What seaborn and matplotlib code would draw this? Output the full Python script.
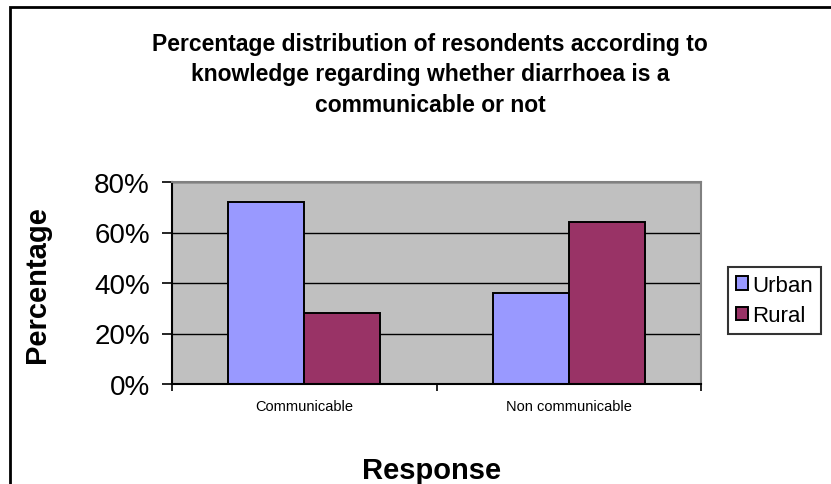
import matplotlib
matplotlib.use("Agg")
import matplotlib.pyplot as plt
from matplotlib.patches import Rectangle
from matplotlib.ticker import FixedLocator, PercentFormatter
import seaborn as sns
import pandas as pd

# Survey responses (percent of respondents)
responses = ["Communicable", "Non communicable"]
urban = [72, 36]
rural = [28, 64]
series_names = ["Urban", "Rural"]
series_colors = ["#9999FF", "#993366"]
y_ticks = [0, 20, 40, 60, 80]

df = pd.DataFrame({
    "Response": responses * 2,
    "Area": [series_names[0]] * len(responses) + [series_names[1]] * len(responses),
    "Percentage": urban + rural,
})

sns.set_theme(style="white")
plt.rcParams["font.family"] = ["Liberation Sans", "DejaVu Sans"]
plt.rcParams["text.color"] = "black"
plt.rcParams["xtick.color"] = "black"
plt.rcParams["ytick.color"] = "black"
plt.rcParams["axes.labelcolor"] = "black"

fig = plt.figure(figsize=(8.31, 4.85), dpi=100)
W, H = 831, 485
ax = fig.add_axes([172 / W, 1 - 385 / H, (701 - 172) / W, (385 - 183) / H])
ax.set_facecolor("#C0C0C0")

sns.barplot(data=df, x="Response", y="Percentage", hue="Area",
            palette=series_colors, width=0.575, edgecolor="black",
            linewidth=1.4, saturation=1, ax=ax, legend=True)

ax.set_ylim(0, 80)
ax.set_xlim(-0.5, 1.5)
ax.yaxis.set_major_locator(FixedLocator(y_ticks))
ax.yaxis.set_major_formatter(PercentFormatter(decimals=0))
ax.grid(axis="y", color="black", linewidth=1.0)
ax.set_axisbelow(True)

# spines: black on the left/bottom, grey on the top/right
for side in ("left", "bottom"):
    ax.spines[side].set_color("black")
    ax.spines[side].set_linewidth(1.5)
for side in ("top", "right"):
    ax.spines[side].set_color("#808080")
    ax.spines[side].set_linewidth(1.5)

ax.tick_params(axis="y", which="major", direction="out", length=7, width=1.2,
               color="black", labelsize=20, pad=9, left=True)
ax.tick_params(axis="x", which="major", length=0, labelsize=10.5, pad=11)
ax.xaxis.set_minor_locator(FixedLocator([-0.5, 0.5, 1.5]))
ax.tick_params(axis="x", which="minor", direction="out", length=5, width=1.2,
               color="black", bottom=True)

ax.set_xlabel("")
ax.set_ylabel("")
fig.text(432 / W, 1 - 471 / H, "Response", ha="center", va="center",
         fontsize=21, fontweight="bold")
fig.text(37 / W, 1 - 285 / H, "Percentage", ha="center", va="center",
         rotation=90, fontsize=21, fontweight="bold")

fig.text(430 / W, 1 - 75 / H,
         "Percentage distribution of resondents according to\n"
         "knowledge regarding whether diarrhoea is a\n"
         "communicable or not",
         ha="center", va="center", fontsize=16.5, fontweight="bold",
         linespacing=1.42)

handles, labels = ax.get_legend_handles_labels()
ax.get_legend().remove()
leg = fig.legend(handles, labels, loc="upper left",
                 bbox_to_anchor=(728 / W, 1 - 268 / H),
                 frameon=True, fancybox=False, edgecolor="black",
                 fontsize=16, handlelength=0.55, handleheight=0.55,
                 handletextpad=0.2, borderpad=0.35, labelspacing=0.42,
                 borderaxespad=0)
leg.get_frame().set_linewidth(1.5)

# outer chart frame
fig.patches.append(Rectangle((10 / W, -0.1), 1.0, 1 - 8 / H + 0.1,
                             transform=fig.transFigure, fill=False,
                             edgecolor="black", linewidth=2))

fig.savefig("out.png", dpi=100, facecolor="white")
